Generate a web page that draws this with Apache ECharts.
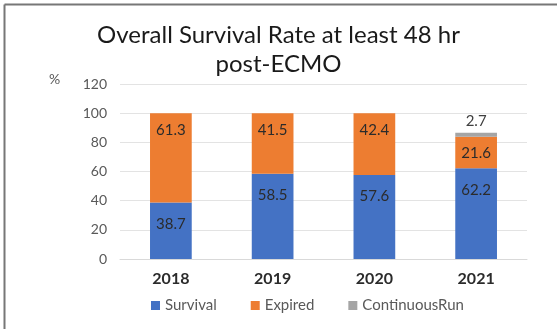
<!DOCTYPE html>
<html>
<head>
<meta charset="utf-8">
<script src="https://cdn.jsdelivr.net/npm/echarts@6/dist/echarts.min.js"></script>
<style>
  html, body { margin: 0; padding: 0; background: #fff; }
  #chart { width: 557px; height: 329px; }
</style>
</head>
<body>
<div id="chart"></div>
<script>
// Survival outcomes per year (percent of runs)
const years = ['2018', '2019', '2020', '2021'];
const survival = [38.7, 58.5, 57.6, 62.2];
const expired = [61.3, 41.5, 42.4, 21.6];
const continuousRun = [null, null, null, 2.7];
const yTicks = { min: 0, max: 120, interval: 20 };

const font = 'Lato, "Open Sans", sans-serif';
const chart = echarts.init(document.getElementById('chart'));

const labelBase = {
  show: true,
  fontFamily: font,
  fontSize: 15,
  color: '#2b2b2b'
};

chart.setOption({
  animation: false,
  title: {
    text: 'Overall Survival Rate at least 48 hr\npost-ECMO',
    left: 'center',
    top: 16,
    textStyle: {
      fontFamily: font,
      fontWeight: 'normal',
      fontSize: 24,
      lineHeight: 29,
      color: '#1a1a1a'
    }
  },
  graphic: [
    { type: 'line', shape: { x1: 4.5, y1: 4.5, x2: 557, y2: 4.5 }, style: { stroke: '#777', lineWidth: 2 } },
    { type: 'line', shape: { x1: 4.5, y1: 4.5, x2: 4.5, y2: 329 }, style: { stroke: '#777', lineWidth: 2 } },
    { type: 'text', left: 49, top: 72, style: { text: '%', fontFamily: font, fontSize: 14, fill: '#595959' } }
  ],
  grid: { left: 120, right: 30, top: 84, bottom: 70 },
  legend: {
    bottom: 11,
    left: 146,
    itemWidth: 9,
    itemHeight: 9,
    itemGap: 34,
    icon: 'rect',
    textStyle: { fontFamily: font, fontSize: 15, color: '#595959' },
    data: ['Survival', 'Expired', 'ContinuousRun']
  },
  xAxis: {
    type: 'category',
    data: years,
    axisLine: { lineStyle: { color: '#d9d9d9' } },
    axisTick: { show: false },
    axisLabel: { fontFamily: font, fontSize: 16, fontWeight: 'bold', color: '#2b2b2b', margin: 12 }
  },
  yAxis: {
    type: 'value',
    min: yTicks.min,
    max: yTicks.max,
    interval: yTicks.interval,
    axisLine: { show: false },
    axisTick: { show: false },
    splitLine: { lineStyle: { color: '#e3e3e3' } },
    axisLabel: { fontFamily: font, fontSize: 14, color: '#595959', margin: 13 }
  },
  series: [
    {
      name: 'Survival', type: 'bar', stack: 'total', barWidth: '41%',
      data: survival,
      itemStyle: { color: '#4472C4' },
      label: Object.assign({}, labelBase, { position: 'insideTop', distance: 14 })
    },
    {
      name: 'Expired', type: 'bar', stack: 'total',
      data: expired,
      itemStyle: { color: '#ED7D31' },
      label: Object.assign({}, labelBase, { position: 'insideTop', distance: 9 })
    },
    {
      name: 'ContinuousRun', type: 'bar', stack: 'total',
      data: continuousRun,
      itemStyle: { color: '#A5A5A5' },
      label: Object.assign({}, labelBase, { position: 'top', distance: 4, color: '#404040' })
    }
  ]
});
</script>
</body>
</html>
